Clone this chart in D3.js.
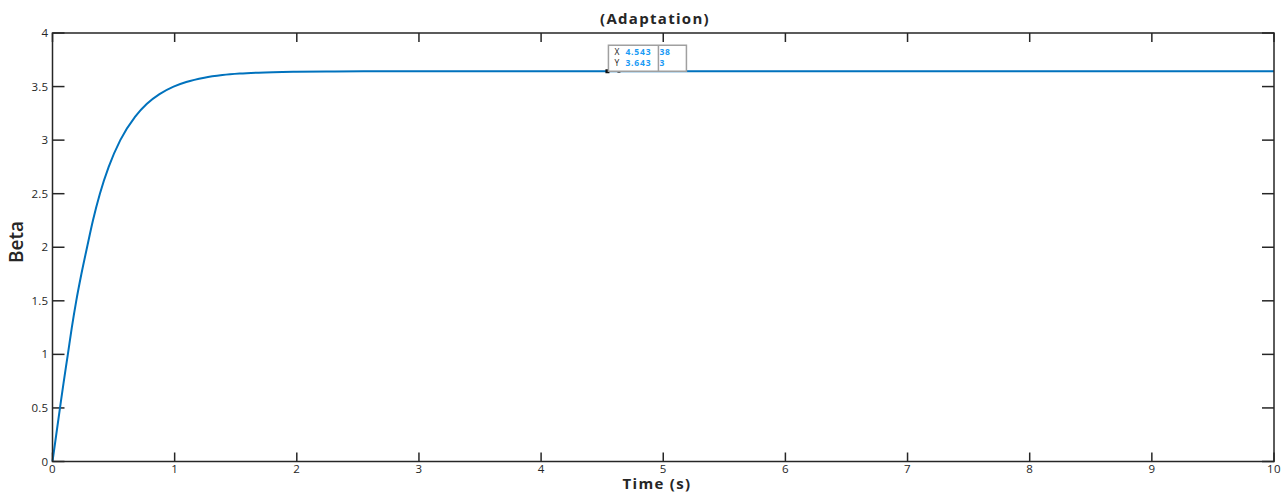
<!DOCTYPE html>
<html>
<head>
<meta charset="utf-8">
<script src="https://cdn.jsdelivr.net/npm/d3@7"></script>
<style>
  html, body { margin: 0; padding: 0; background: #fff; }
  svg { display: block; }
  text { font-family: "Open Sans", "DejaVu Sans", sans-serif; }
</style>
</head>
<body>
<svg id="chart" width="1287" height="492"></svg>
<script>
// Adaptation gain response (time in seconds, Beta)
const timeS = [0, 0.03, 0.0614, 0.09, 0.1257, 0.158, 0.1945, 0.2365, 0.283, 0.331, 0.388, 0.46,
  0.555, 0.677, 0.773, 0.876, 0.991, 1.095, 1.243, 1.391, 1.533, 1.687, 1.995, 2.31, 2.6, 3,
  4, 5, 6, 7, 8, 9, 10];
const beta = [0, 0.245, 0.5, 0.73, 1.0, 1.25, 1.5, 1.75, 2.0, 2.25, 2.5, 2.75,
  3.0, 3.22, 3.34, 3.43, 3.50, 3.543, 3.583, 3.607, 3.621, 3.630, 3.6385, 3.6415, 3.643, 3.643,
  3.643, 3.643, 3.643, 3.643, 3.643, 3.643, 3.643];

const xTicks = [0, 1, 2, 3, 4, 5, 6, 7, 8, 9, 10];
const yTicks = [0, 0.5, 1, 1.5, 2, 2.5, 3, 3.5, 4];

// data tip
const tipX = 4.543;
const tipY = 3.643;

const svg = d3.select("#chart");
const L = 52.5, R = 1274, T = 33, B = 461.5;
const axisColor = "#262626";

const x = d3.scaleLinear().domain([0, 10]).range([L, R]);
const y = d3.scaleLinear().domain([0, 4]).range([B, T]);

// ticks (inward, on all four sides)
const tickG = svg.append("g").attr("stroke", axisColor).attr("stroke-width", 1.5);
xTicks.forEach(v => {
  tickG.append("line").attr("x1", x(v)).attr("x2", x(v)).attr("y1", B).attr("y2", B - 9);
  tickG.append("line").attr("x1", x(v)).attr("x2", x(v)).attr("y1", T).attr("y2", T + 9);
});
yTicks.forEach(v => {
  tickG.append("line").attr("x1", L).attr("x2", L + 12).attr("y1", y(v)).attr("y2", y(v));
  tickG.append("line").attr("x1", R).attr("x2", R - 12).attr("y1", y(v)).attr("y2", y(v));
});

// tick labels
svg.append("g").selectAll("text").data(xTicks).join("text")
  .attr("x", d => x(d)).attr("y", B + 11.5)
  .attr("text-anchor", "middle").attr("font-size", 11.5).attr("letter-spacing", 0.3).attr("fill", axisColor)
  .text(d => d3.format("~g")(d));
svg.append("g").selectAll("text").data(yTicks).join("text")
  .attr("x", L - 4).attr("y", d => y(d) + 4)
  .attr("text-anchor", "end").attr("font-size", 11.5).attr("letter-spacing", 0.3).attr("fill", axisColor)
  .text(d => d3.format("~g")(d));

// response curve
const line = d3.line()
  .x((d, i) => x(timeS[i]))
  .y(d => y(d))
  .curve(d3.curveMonotoneX);
svg.append("path")
  .datum(beta)
  .attr("d", line)
  .attr("fill", "none")
  .attr("stroke", "#0072BD")
  .attr("stroke-width", 2);

// axes box
svg.append("rect")
  .attr("x", L).attr("y", T).attr("width", R - L).attr("height", B - T)
  .attr("fill", "none").attr("stroke", axisColor).attr("stroke-width", 1.5);

// data tip marker and box
const px = x(tipX), py = y(tipY);
svg.append("rect").attr("x", px - 2).attr("y", py - 2).attr("width", 4).attr("height", 4).attr("fill", "#111");
svg.append("rect").attr("x", px + 10).attr("y", py - 1.5).attr("width", 3).attr("height", 3).attr("fill", "#444");

const tip = svg.append("g").attr("transform", `translate(${px + 1},${py - 26})`);
tip.append("rect").attr("x", 0).attr("y", 0).attr("width", 78).attr("height", 26)
  .attr("fill", "#fff").attr("stroke", "#a0a0a0").attr("stroke-width", 1.5);
tip.append("line").attr("x1", 50).attr("x2", 50).attr("y1", 0).attr("y2", 26)
  .attr("stroke", "#a0a0a0").attr("stroke-width", 1.5);
const tipFont = 8.5;
const tipText = (tx, ty, s, blue) => tip.append("text").attr("x", tx).attr("y", ty)
  .attr("font-size", tipFont).attr("letter-spacing", 0.8)
  .attr("font-weight", blue ? "bold" : "normal")
  .attr("fill", blue ? "#1a9bf5" : "#222").text(s);
tipText(6, 10, "X", false);
tipText(6, 20.5, "Y", false);
tipText(17, 10, d3.format(".3f")(tipX), true);
tipText(17, 20.5, d3.format(".3f")(tipY), true);
tipText(51, 10, "38", true);
tipText(51, 20.5, "3", true);

// title and axis labels
svg.append("text").attr("x", 655).attr("y", 24)
  .attr("text-anchor", "middle").attr("font-size", 15).attr("letter-spacing", 1.3)
  .attr("font-weight", "bold").attr("fill", axisColor)
  .text("(Adaptation)");
svg.append("text").attr("x", 657).attr("y", 488.5)
  .attr("text-anchor", "middle").attr("font-size", 15).attr("letter-spacing", 1.3)
  .attr("font-weight", "bold").attr("fill", axisColor)
  .text("Time (s)");
svg.append("text")
  .attr("transform", `translate(23,242) rotate(-90)`)
  .attr("text-anchor", "middle").attr("font-size", 19).attr("font-weight", 600).attr("fill", axisColor)
  .text("Beta");
</script>
</body>
</html>
